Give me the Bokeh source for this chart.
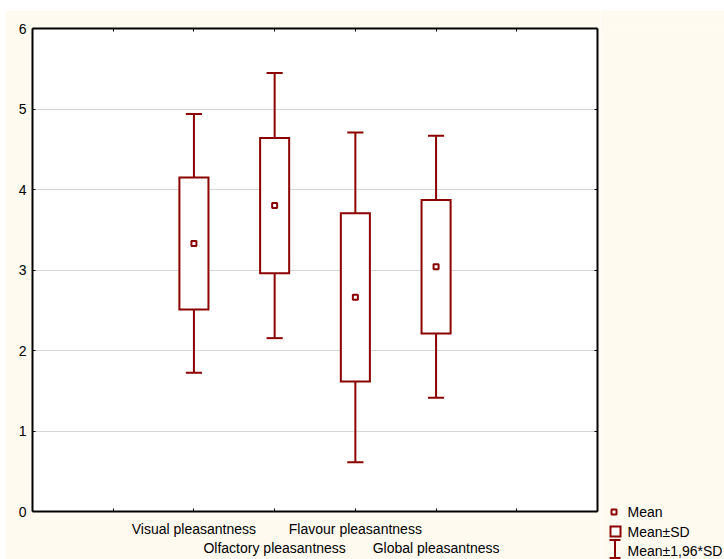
from bokeh.plotting import figure
from bokeh.layouts import row
from bokeh.models import LinearAxis, FixedTicker, ColumnDataSource, Range1d
from bokeh.core.properties import value
from bokeh.embed import file_html
from bokeh.resources import INLINE

# ---------------- data ----------------
categories = ["Visual pleasantness", "Olfactory pleasantness",
              "Flavour pleasantness", "Global pleasantness"]
positions = [2, 3, 4, 5]
means = [3.33, 3.80, 2.66, 3.04]
sds = [0.82, 0.84, 1.045, 0.83]
y_ticks = [0, 1, 2, 3, 4, 5, 6]
x_ticks = [1, 2, 3, 4, 5, 6]
legend_labels = ["Mean", "Mean\u00b1SD", "Mean\u00b11,96*SD"]

RED = "#8B0000"
FONT = "Liberation Sans"
CREAM = "#FFFAF0"

# ---------------- layout ----------------
M_TOP, M_LEFT = 10, 5
BL, BT = 32 - M_LEFT, 28 - M_TOP
FW, FH = 565, 483
BR = 3
BB = 559 - M_TOP - BT - FH
MAIN_W = BL + FW + BR
LEG_W = 724 - M_LEFT - MAIN_W
X0, X1, Y0, Y1 = 0, 7, 0, 6

box_half = 0.18
cap_half = 0.1

box_lo = [m - s for m, s in zip(means, sds)]
box_hi = [m + s for m, s in zip(means, sds)]
wh_lo = [m - 1.96 * s for m, s in zip(means, sds)]
wh_hi = [m + 1.96 * s for m, s in zip(means, sds)]

src = ColumnDataSource(dict(
    x=positions, mean=means, box_lo=box_lo, box_hi=box_hi,
    wh_lo=wh_lo, wh_hi=wh_hi,
    left=[x - box_half for x in positions], right=[x + box_half for x in positions],
    cl=[x - cap_half for x in positions], cr=[x + cap_half for x in positions],
))

p = figure(frame_width=FW, frame_height=FH, x_range=(X0, X1), y_range=(Y0, Y1),
           output_backend="svg", toolbar_location=None,
           min_border_left=BL, min_border_right=BR,
           min_border_top=BT, min_border_bottom=BB,
           background_fill_color="white", border_fill_color=CREAM)
p.margin = (M_TOP, 0, 0, M_LEFT)
p.outline_line_color = None


def style_axis(ax):
    ax.axis_line_color = "black"
    ax.axis_line_width = 2
    ax.major_tick_in = 3
    ax.major_tick_out = 0
    ax.major_tick_line_color = "black"
    ax.major_tick_line_width = 1
    ax.minor_tick_line_color = None
    ax.major_label_text_font = FONT
    ax.major_label_text_font_size = "14px"
    ax.major_label_text_color = "black"


# bottom axis with staggered category labels
xa = p.xaxis[0]
xa.ticker = FixedTicker(ticks=x_ticks)
overrides = {t: "" for t in x_ticks}
for i, (pos, cat) in enumerate(zip(positions, categories)):
    overrides[pos] = ("\n" if i % 2 else "") + cat
xa.major_label_overrides = overrides
style_axis(xa)
xa.major_label_standoff = 9

# left axis
ya = p.yaxis[0]
ya.ticker = FixedTicker(ticks=y_ticks)
style_axis(ya)
ya.major_label_standoff = 6

# top and right axes (ticks only)
top = LinearAxis(ticker=FixedTicker(ticks=x_ticks))
style_axis(top)
top.major_label_overrides = {t: "" for t in x_ticks}
top.major_label_standoff = 0
p.add_layout(top, "above")
right = LinearAxis(ticker=FixedTicker(ticks=y_ticks))
style_axis(right)
right.major_label_overrides = {t: "" for t in y_ticks}
right.major_label_standoff = 0
p.add_layout(right, "right")

p.xgrid.visible = False
p.ygrid.ticker = FixedTicker(ticks=y_ticks[1:-1])
p.ygrid.grid_line_color = "#D6D6D6"
p.ygrid.grid_line_width = 1

# whiskers
p.segment(x0="x", y0="box_hi", x1="x", y1="wh_hi", source=src, line_color=RED, line_width=2)
p.segment(x0="x", y0="box_lo", x1="x", y1="wh_lo", source=src, line_color=RED, line_width=2)
p.segment(x0="cl", y0="wh_hi", x1="cr", y1="wh_hi", source=src, line_color=RED, line_width=2)
p.segment(x0="cl", y0="wh_lo", x1="cr", y1="wh_lo", source=src, line_color=RED, line_width=2)
# boxes
p.quad(left="left", right="right", bottom="box_lo", top="box_hi", source=src,
       fill_color="white", line_color=RED, line_width=2, line_join="miter")
# means
p.scatter(x="x", y="mean", source=src, marker="square", size=5,
          fill_color="white", line_color=RED, line_width=2)

# ---------------- legend panel (page-pixel coordinates) ----------------
# its frame is aligned with the main frame's top edge (page y = 28)
LEG_X0 = M_LEFT + MAIN_W
LEG_TOP = M_TOP + BT
lg = figure(frame_width=LEG_W, frame_height=559 - LEG_TOP,
            x_range=Range1d(LEG_X0, 724), y_range=Range1d(559, LEG_TOP),
            output_backend="svg", toolbar_location=None,
            x_axis_location=None, y_axis_location=None,
            min_border_left=0, min_border_right=0,
            min_border_top=BT, min_border_bottom=0,
            background_fill_color=CREAM, border_fill_color=CREAM)
lg.margin = (M_TOP, 0, 0, 0)
lg.outline_line_color = None
lg.grid.visible = False

sym_x = 614.5
row_y = [511.5, 531.0, 550.0]
# Mean key
lg.scatter(x=[sym_x - 1], y=[row_y[0]], marker="square", size=5,
           fill_color="white", line_color=RED, line_width=2)
# Mean±SD key
lg.rect(x=[sym_x + 0.5], y=[row_y[1]], width=10, height=10,
        fill_color="white", line_color=RED, line_width=2, line_join="miter")
# Mean±1,96*SD key (I-beam)
lg.segment(x0=[sym_x], y0=[539.5], x1=[sym_x], y1=[557.5], line_color=RED, line_width=2)
lg.segment(x0=[609, 609], y0=[539.5, 557.5], x1=[620, 620], y1=[539.5, 557.5],
           line_color=RED, line_width=2)
lg.text(x=[627] * 3, y=row_y, text=legend_labels, text_font=value(FONT),
        text_font_size=value("14px"), text_color="black",
        text_align="left", text_baseline="middle")

layout = row(p, lg, spacing=0)
open("out.html", "w").write(file_html(layout, INLINE))
